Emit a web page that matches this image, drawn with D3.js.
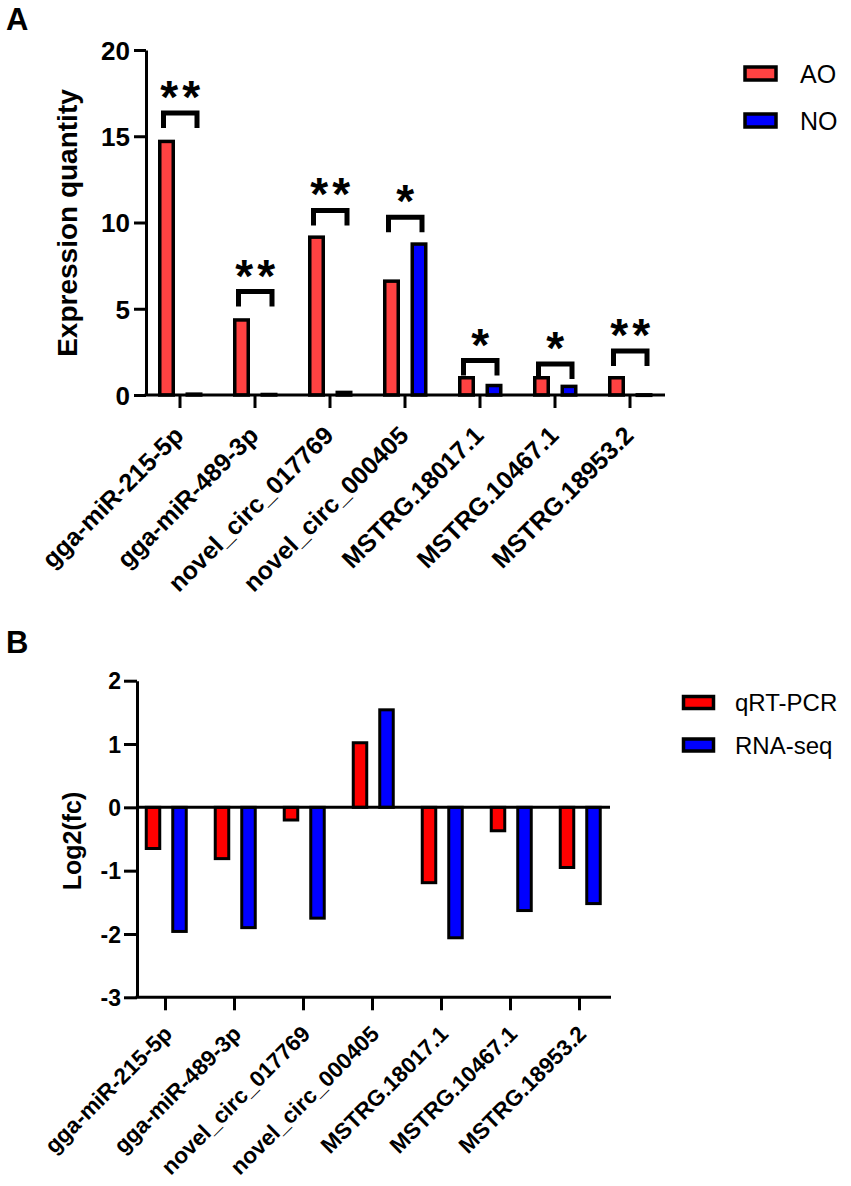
<!DOCTYPE html>
<html lang="en">
<head>
<meta charset="UTF-8">
<title>Expression validation</title>
<script src="https://d3js.org/d3.v7.min.js"></script>
<style>
  body { margin: 0; background: #fff; }
  svg { display: block; font-family: "Liberation Sans", Arial, sans-serif; }
</style>
</head>
<body>
<div id="chart"></div>
<script>

// ---- data ----
const categories = ["gga-miR-215-5p", "gga-miR-489-3p", "novel_circ_017769", "novel_circ_000405",
                    "MSTRG.18017.1", "MSTRG.10467.1", "MSTRG.18953.2"];

// panel A
const seriesA = ["AO", "NO"];
const aoValues = [14.7, 4.35, 9.15, 6.6, 1.0, 1.0, 1.0];
const noValues = [0.05, 0.03, 0.15, 8.75, 0.55, 0.5, 0.01];
const sigLabels = ["**", "**", "**", "*", "*", "*", "**"];
const bracketLevels = [16.35, 6.0, 10.7, 10.3, 2.0, 1.8, 2.55];
const yTicksA = [0, 5, 10, 15, 20];

// panel B
const seriesB = ["qRT-PCR", "RNA-seq"];
const qpcrValues = [-0.65, -0.81, -0.2, 1.02, -1.19, -0.37, -0.95];
const rnaseqValues = [-1.96, -1.9, -1.75, 1.54, -2.06, -1.63, -1.52];
const yTicksB = [-3, -2, -1, 0, 1, 2];

const W = 851, H = 1186;
const svg = d3.select("#chart").append("svg")
    .attr("width", W).attr("height", H)
    .attr("viewBox", [0, 0, W, H]);
svg.append("rect").attr("width", W).attr("height", H).attr("fill", "#fff");

// panel letters
svg.append("text").attr("x", 6).attr("y", 30)
    .attr("font-size", 31).attr("font-weight", "bold").text("A");
svg.append("text").attr("x", 6).attr("y", 653)
    .attr("font-size", 31).attr("font-weight", "bold").text("B");

function styleAxis(g, width) {
    g.selectAll("path, line").attr("stroke", "#000").attr("stroke-width", width);
}

// plain hyphen for negatives, like the original
const plainFmt = d => String(d);

// ================= panel A =================
{
    const left = 146, right = 665;
    const x = d3.scaleBand(categories, [142.5, 667.5]);
    const y = d3.scaleLinear([0, 20], [395, 50]);
    const sub = d3.scaleBand(seriesA, [-27.25, 27.75]);
    const colors = { AO: "#ff4242", NO: "#0000ff" };
    const barW = 13.5;
    const cx = (c, s) => x(c) + x.bandwidth() / 2 + sub(s) + sub.bandwidth() / 2;

    const rows = categories.map((c, i) => ({ c, AO: aoValues[i], NO: noValues[i] }));

    const g = svg.append("g");
    seriesA.forEach(s => {
        g.selectAll(null).data(rows).join("rect")
            .attr("x", d => cx(d.c, s) - barW / 2)
            .attr("width", barW)
            .attr("y", d => y(d[s]))
            .attr("height", d => Math.max(0.5, y(0) - y(d[s])))
            .attr("fill", colors[s])
            .attr("stroke", "#000").attr("stroke-width", 3.5);
    });

    // significance brackets
    rows.forEach((d, i) => {
        const x1 = cx(d.c, "AO") - 3, x2 = cx(d.c, "NO") + 3;
        const by = y(bracketLevels[i]);
        g.append("path")
            .attr("d", `M${x1},${by + 15}V${by}H${x2}V${by + 15}`)
            .attr("fill", "none").attr("stroke", "#000").attr("stroke-width", 5)
            .attr("stroke-linejoin", "miter");
        g.append("text")
            .attr("x", (x1 + x2) / 2 + 2).attr("y", by)
            .attr("text-anchor", "middle")
            .attr("font-size", 46).attr("font-weight", "bold")
            .attr("letter-spacing", 4)
            .text(sigLabels[i]);
    });

    // y axis
    const ya = svg.append("g").attr("transform", `translate(${left},0)`)
        .call(d3.axisLeft(y).tickValues(yTicksA).tickFormat(plainFmt)
            .tickSize(12).tickSizeOuter(0).tickPadding(4));
    styleAxis(ya, 3);
    ya.selectAll("text").attr("font-size", 26).attr("font-weight", "bold")
        .attr("font-family", null).attr("fill", "#000").attr("dy", "0.36em");

    // x axis
    const xa = svg.append("g").attr("transform", `translate(0,${y(0)})`)
        .call(d3.axisBottom(x).tickSize(13).tickSizeOuter(0));
    xa.select(".domain").attr("d", `M${left - 1.5},0H${right}`);
    styleAxis(xa, 3);
    xa.selectAll("text").attr("font-size", 25).attr("font-weight", "bold")
        .attr("font-family", null).attr("fill", "#000")
        .attr("text-anchor", "end")
        .attr("dy", null).attr("y", null)
        .attr("transform", "translate(5,42) rotate(-45)");

    // y title
    svg.append("text")
        .attr("transform", `translate(77,223) rotate(-90)`)
        .attr("text-anchor", "middle")
        .attr("font-size", 28).attr("font-weight", "bold")
        .text("Expression quantity");

    // legend
    const lg = svg.append("g");
    seriesA.forEach((s, i) => {
        const ly = 73.5 + i * 47;
        lg.append("rect").attr("x", 745).attr("y", ly - 6.5).attr("width", 31).attr("height", 13)
            .attr("fill", colors[s]).attr("stroke", "#000").attr("stroke-width", 3.5);
        lg.append("text").attr("x", 800).attr("y", ly + 9)
            .attr("font-size", 25).text(s);
    });
}

// ================= panel B =================
{
    const left = 137, right = 611;
    const x = d3.scaleBand(categories, [131, 614]);
    const y = d3.scaleLinear([-3, 2], [997.3, 680.7]);
    const sub = d3.scaleBand(seriesB, [-25.75, 27.25]);
    const colors = { "qRT-PCR": "#ff0000", "RNA-seq": "#0000ff" };
    const barW = 13.5;
    const cx = (c, s) => x(c) + x.bandwidth() / 2 + sub(s) + sub.bandwidth() / 2;

    const rows = categories.map((c, i) => ({ c, "qRT-PCR": qpcrValues[i], "RNA-seq": rnaseqValues[i] }));

    const g = svg.append("g");
    seriesB.forEach(s => {
        g.selectAll(null).data(rows).join("rect")
            .attr("x", d => cx(d.c, s) - barW / 2)
            .attr("width", barW)
            .attr("y", d => y(Math.max(0, d[s])))
            .attr("height", d => Math.abs(y(d[s]) - y(0)))
            .attr("fill", colors[s])
            .attr("stroke", "#000").attr("stroke-width", 3);
    });

    // zero line
    svg.append("line")
        .attr("x1", left).attr("x2", right - 1)
        .attr("y1", y(0)).attr("y2", y(0))
        .attr("stroke", "#000").attr("stroke-width", 3);

    // y axis
    const ya = svg.append("g").attr("transform", `translate(${left},0)`)
        .call(d3.axisLeft(y).tickValues(yTicksB).tickFormat(plainFmt)
            .tickSize(13).tickSizeOuter(0).tickPadding(3));
    styleAxis(ya, 3);
    ya.selectAll("text").attr("font-size", 23).attr("font-weight", "bold")
        .attr("font-family", null).attr("fill", "#000").attr("dy", "0.36em");

    // x axis at the bottom
    const xa = svg.append("g").attr("transform", `translate(0,${y(-3)})`)
        .call(d3.axisBottom(x).tickSize(13).tickSizeOuter(0));
    xa.select(".domain").attr("d", `M${left - 1.5},0H${right}`);
    styleAxis(xa, 3);
    xa.selectAll("text").attr("font-size", 22.5).attr("font-weight", "bold")
        .attr("font-family", null).attr("fill", "#000")
        .attr("text-anchor", "end")
        .attr("dy", null).attr("y", null)
        .attr("transform", "translate(8,38) rotate(-45)");

    // y title
    svg.append("text")
        .attr("transform", `translate(81,841) rotate(-90)`)
        .attr("text-anchor", "middle")
        .attr("font-size", 25).attr("font-weight", "bold")
        .text("Log2(fc)");

    // legend
    const lg = svg.append("g");
    seriesB.forEach((s, i) => {
        const ly = 702.5 + i * 42.5;
        lg.append("rect").attr("x", 683.5).attr("y", ly - 6).attr("width", 30).attr("height", 12)
            .attr("fill", colors[s]).attr("stroke", "#000").attr("stroke-width", 3.5);
        lg.append("text").attr("x", 735).attr("y", ly + 8.5)
            .attr("font-size", 24).text(s);
    });
}

</script>
</body>
</html>
